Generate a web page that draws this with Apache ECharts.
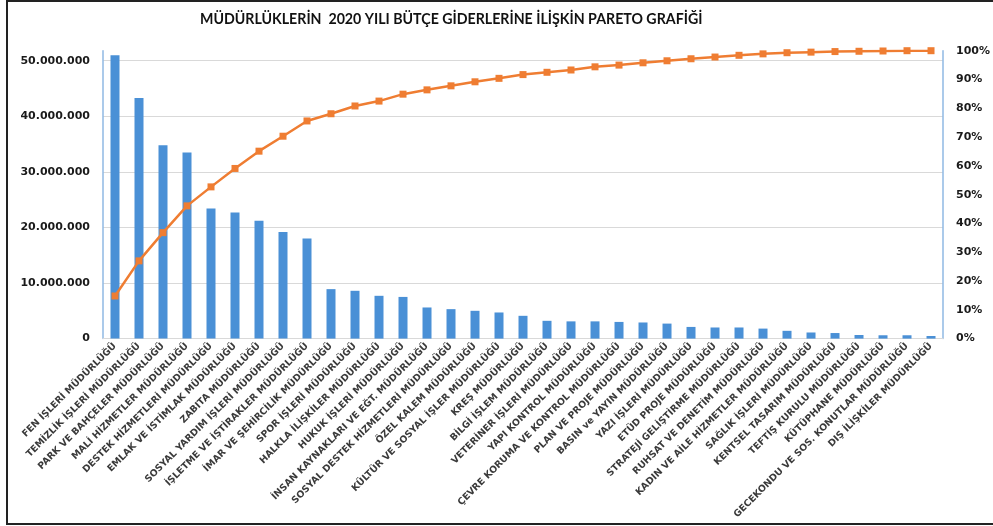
<!DOCTYPE html>
<html>
<head>
<meta charset="utf-8">
<script src="https://cdn.jsdelivr.net/npm/echarts@6/dist/echarts.min.js"></script>
<style>
  html, body { margin: 0; padding: 0; background: #fff; }
  #chart { width: 993px; height: 526px; }
</style>
</head>
<body>
<div id="chart"></div>
<script>
// müdürlükler (kategoriler)
const categories = [
  'FEN İŞLERİ MÜDÜRLÜĞÜ', 'TEMİZLİK İŞLERİ MÜDÜRLÜĞÜ', 'PARK VE BAHÇELER MÜDÜRLÜĞÜ',
  'MALİ HİZMETLER MÜDÜRLÜĞÜ', 'DESTEK HİZMETLERİ MÜDÜRLÜĞÜ', 'EMLAK VE İSTİMLAK MÜDÜRLÜĞÜ',
  'ZABITA MÜDÜRLÜĞÜ', 'SOSYAL YARDIM İŞLERİ MÜDÜRLÜĞÜ', 'İŞLETME VE İŞTİRAKLER MÜDÜRLÜĞÜ',
  'İMAR VE ŞEHİRCİLİK MÜDÜRLÜĞÜ', 'SPOR İŞLERİ MÜDÜRLÜĞÜ', 'HALKLA İLİŞKİLER MÜDÜRLÜĞÜ',
  'HUKUK İŞLERİ MÜDÜRLÜĞÜ', 'İNSAN KAYNAKLARI VE EĞT. MÜDÜRLÜĞÜ', 'SOSYAL DESTEK HİZMETLERİ MÜDÜRLÜĞÜ',
  'ÖZEL KALEM MÜDÜRLÜĞÜ', 'KÜLTÜR VE SOSYAL İŞLER MÜDÜRLÜĞÜ', 'KREŞ MÜDÜRLÜĞÜ',
  'BİLGİ İŞLEM MÜDÜRLÜĞÜ', 'VETERİNER İŞLERİ MÜDÜRLÜĞÜ', 'YAPI KONTROL MÜDÜRLÜĞÜ',
  'ÇEVRE KORUMA VE KONTROL MÜDÜRLÜĞÜ', 'PLAN VE PROJE MÜDÜRLÜĞÜ', 'BASIN ve YAYIN MÜDÜRLÜĞÜ',
  'YAZI İŞLERİ MÜDÜRLÜĞÜ', 'ETÜD PROJE MÜDÜRLÜĞÜ', 'STRATEJİ GELİŞTİRME MÜDÜRLÜĞÜ',
  'RUHSAT VE DENETİM MÜDÜRLÜĞÜ', 'KADIN VE AİLE HİZMETLER MÜDÜRLÜĞÜ', 'SAĞLIK İŞLERİ MÜDÜRLÜĞÜ',
  'KENTSEL TASARIM MÜDÜRLÜĞÜ', 'TEFTİŞ KURULU MÜDÜRLÜĞÜ', 'KÜTÜPHANE MÜDÜRLÜĞÜ',
  'GECEKONDU VE SOS. KONUTLAR MÜDÜRLÜĞÜ', 'DIŞ İLİŞKİLER MÜDÜRLÜĞÜ'
];

// bütçe giderleri (TL)
const expenses = [
  51000000, 43300000, 34800000, 33500000, 23400000, 22700000, 21200000, 19200000, 18000000,
  8900000, 8600000, 7700000, 7500000, 5600000, 5300000, 5000000, 4700000, 4100000,
  3200000, 3100000, 3100000, 3000000, 2900000, 2700000, 2100000, 2000000, 2000000,
  1800000, 1400000, 1100000, 1000000, 650000, 600000, 600000, 470000
];

// kümülatif yüzde (%)
const cumulative = [
  14.8, 27.0, 36.8, 46.1, 52.7, 59.1, 65.1, 70.3, 75.6, 78.1, 80.8, 82.5, 84.9, 86.4,
  87.8, 89.2, 90.4, 91.7, 92.5, 93.3, 94.4, 95.0, 95.8, 96.5, 97.2, 97.8, 98.4, 98.9,
  99.3, 99.5, 99.7, 99.8, 99.9, 100, 100
];

const chart = echarts.init(document.getElementById('chart'));

function formatTL(value) {
  return String(value).replace(/\B(?=(\d{3})+(?!\d))/g, '.');
}

const option = {
  backgroundColor: '#fff',
  animation: false,
  title: {
    text: 'MÜDÜRLÜKLERİN  2020 YILI BÜTÇE GİDERLERİNE İLİŞKİN PARETO GRAFİĞİ',
    left: 195,
    top: 7,
    textStyle: {
      fontFamily: 'Lato',
      fontWeight: 'bold',
      fontSize: 14.2,
      color: '#111'
    }
  },
  graphic: [
    {
      type: 'rect',
      shape: {x: 7, y: 1, width: 1000, height: 523},
      style: {fill: 'none', stroke: '#222', lineWidth: 2},
      silent: true
    }
  ],
  grid: {
    left: 103,
    right: 48,
    top: 50.7,
    bottom: 187.4
  },
  xAxis: {
    type: 'category',
    data: categories,
    axisTick: {show: false},
    axisLine: {lineStyle: {color: '#d9d9d9', width: 1}},
    axisLabel: {
      interval: 0,
      rotate: 45,
      margin: 6,
      fontFamily: 'DejaVu Sans',
      fontWeight: 'bold',
      fontSize: 9.4,
      color: '#3a3a3a'
    }
  },
  yAxis: [
    {
      type: 'value',
      min: 0,
      max: 51800000,
      interval: 10000000,
      axisLine: {show: true, lineStyle: {color: '#8fb8e3', width: 1.5}},
      axisTick: {show: false},
      splitLine: {show: true, showMaxLine: false, lineStyle: {color: '#d9d9d9', width: 1}},
      axisLabel: {
        showMaxLabel: false,
        margin: 13,
        fontFamily: 'DejaVu Sans',
        fontWeight: 'bold',
        fontSize: 11,
        color: '#1a1a1a',
        formatter: formatTL
      }
    },
    {
      type: 'value',
      min: 0,
      max: 100,
      interval: 10,
      position: 'right',
      axisLine: {show: true, lineStyle: {color: '#8fb8e3', width: 1.5}},
      axisTick: {show: false},
      splitLine: {show: false},
      axisLabel: {
        margin: 13,
        fontFamily: 'DejaVu Sans',
        fontWeight: 'bold',
        fontSize: 11,
        color: '#1a1a1a',
        formatter: '{value}%'
      }
    }
  ],
  series: [
    {
      name: 'Bütçe Gideri',
      type: 'bar',
      data: expenses,
      barWidth: 9,
      itemStyle: {color: '#4a90d6'}
    },
    {
      name: 'Kümülatif %',
      type: 'line',
      yAxisIndex: 1,
      data: cumulative,
      symbol: 'rect',
      symbolSize: 7,
      lineStyle: {color: '#ef7d32', width: 2.5},
      itemStyle: {color: '#ef7d32'}
    }
  ]
};

chart.setOption(option);
window.addEventListener('resize', function () {
  chart.resize();
});
</script>
</body>
</html>
